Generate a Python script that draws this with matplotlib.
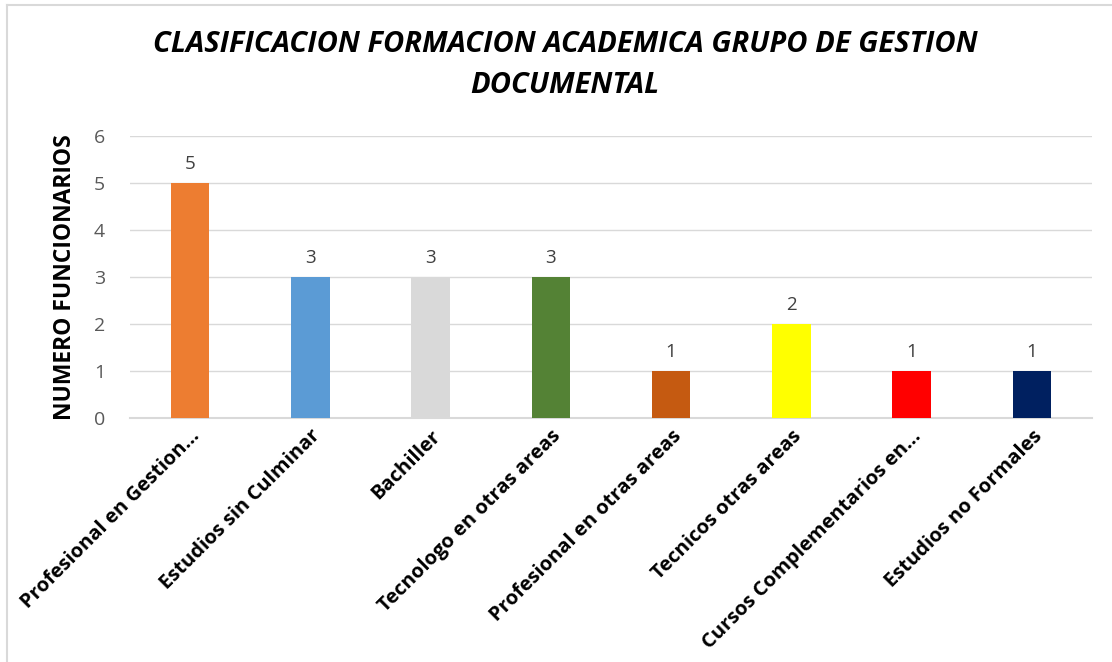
import matplotlib.pyplot as plt
from matplotlib.lines import Line2D

# chart data
categorias = ['Profesional en Gestion...', 'Estudios sin Culminar', 'Bachiller',
              'Tecnologo en otras areas', 'Profesional en otras areas',
              'Tecnicos otras areas', 'Cursos Complementarios en...',
              'Estudios no Formales']
funcionarios = [5, 3, 3, 3, 1, 2, 1, 1]
colores = ['#ed7d31', '#5b9bd5', '#d9d9d9', '#548235', '#c55a11',
           '#ffff00', '#ff0000', '#002060']

plt.rcParams['font.family'] = ['Open Sans', 'DejaVu Sans']

fig = plt.figure(figsize=(11.12, 6.62), dpi=100)
ax = fig.add_axes([0.117, 0.369, 0.865, 0.426])

x = range(len(categorias))
bars = ax.bar(x, funcionarios, width=0.32, color=colores, zorder=3)

for b, v in zip(bars, funcionarios):
    ax.text(b.get_x() + b.get_width() / 2, v + 0.2, str(v), ha='center', va='bottom',
            fontsize=13.5, color='#404040')

ax.set_ylim(0, 6)
ax.set_xlim(-0.5, len(categorias) - 0.5)
ax.set_yticks(range(0, 7))
ax.tick_params(axis='y', length=0, labelsize=14, labelcolor='#595959', pad=18)
ax.tick_params(axis='x', length=0, pad=6)
ax.set_xticks(list(x))
ax.set_xticklabels(categorias, rotation=45, ha='right', rotation_mode='anchor',
                   fontsize=14.5, fontweight='bold')
ax.grid(axis='y', color='#d9d9d9', linewidth=1, zorder=0)
for s in ['top', 'right', 'left']:
    ax.spines[s].set_visible(False)
ax.spines['bottom'].set_color('#d9d9d9')
ax.spines['bottom'].set_linewidth(1.5)

ax.set_ylabel('NUMERO FUNCIONARIOS', fontsize=16.5, fontweight='bold', labelpad=12)

fig.text(0.508, 0.902, 'CLASIFICACION FORMACION ACADEMICA GRUPO DE GESTION\nDOCUMENTAL',
         ha='center', va='center', fontsize=21, fontweight='bold', fontstyle='italic',
         linespacing=1.55)

# left and top edges of the chart frame
fig.add_artist(Line2D([0.0065, 0.0065], [0, 0.993], transform=fig.transFigure,
                      color='#d9d9d9', linewidth=1.5))
fig.add_artist(Line2D([0.0065, 1], [0.993, 0.993], transform=fig.transFigure,
                      color='#d9d9d9', linewidth=1.5))

fig.savefig('out.png', dpi=100)
